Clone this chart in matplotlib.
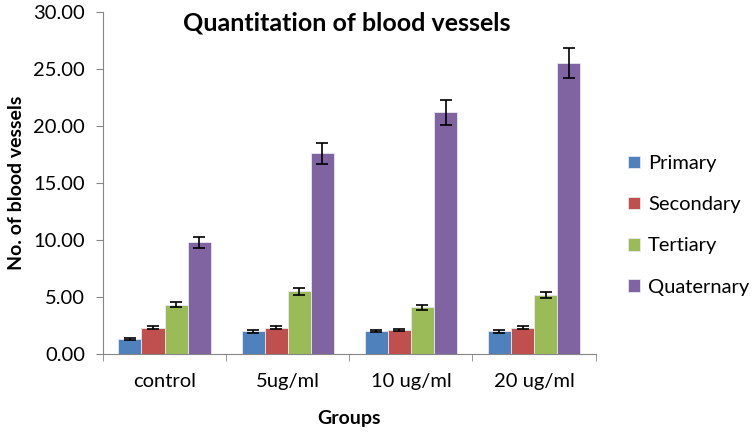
import matplotlib.pyplot as plt
import numpy as np

groups = ["control", "5ug/ml", "10 ug/ml", "20 ug/ml"]
series = ["Primary", "Secondary", "Tertiary", "Quaternary"]
primary = [1.3, 2.0, 2.0, 2.0]
secondary = [2.3, 2.3, 2.1, 2.3]
tertiary = [4.3, 5.5, 4.1, 5.2]
quaternary = [9.8, 17.6, 21.2, 25.5]
primary_err = [0.1, 0.12, 0.1, 0.12]
secondary_err = [0.12, 0.12, 0.12, 0.12]
tertiary_err = [0.22, 0.3, 0.22, 0.28]
quaternary_err = [0.5, 0.95, 1.1, 1.3]
colors = ["#4F81BD", "#C0504D", "#9BBB59", "#8064A2"]

values = [primary, secondary, tertiary, quaternary]
errors = [primary_err, secondary_err, tertiary_err, quaternary_err]

plt.rcParams['font.family'] = ['Lato', 'DejaVu Sans']

fig = plt.figure(figsize=(7.54, 4.32), dpi=100)
ax = fig.add_axes([0.1366, 0.1806, 0.6534, 0.7917])

x = np.arange(len(groups))
width = 0.1875
for i, (name, vals, errs) in enumerate(zip(series, values, errors)):
    pos = x + (i - 1.5) * width
    ax.bar(pos, vals, width, color=colors[i], edgecolor="#e8e8f0",
           linewidth=0.6, label=name, zorder=2)
    ax.errorbar(pos, vals, yerr=errs, fmt="none", ecolor="black",
                elinewidth=1.2, capsize=4, capthick=1.2, zorder=3)

ax.set_xlim(-0.5, len(groups) - 0.5)
ax.set_ylim(0, 30)
ax.set_yticks(np.arange(0, 30.1, 5))
ax.set_yticklabels(["%.2f" % v for v in np.arange(0, 30.1, 5)], fontsize=14.5)
ax.set_xticks(x)
ax.set_xticklabels(groups, fontsize=14.5)
ax.set_xticks(np.arange(-0.5, len(groups)), minor=True)
ax.tick_params(axis="x", which="major", length=0, pad=14)
ax.tick_params(axis="x", which="minor", length=5, color="#868686")
ax.tick_params(axis="y", length=5, color="#868686", pad=8)

for side in ["top", "right"]:
    ax.spines[side].set_visible(False)
for side in ["left", "bottom"]:
    ax.spines[side].set_color("#868686")

fig.text(0.46, 1 - 23 / 432, "Quantitation of blood vessels", fontsize=18,
         fontweight="bold", ha="center", va="center")
ax.set_ylabel("No. of blood vessels", fontsize=14, fontweight="bold", labelpad=6)
ax.set_xlabel("Groups", fontsize=14, fontweight="bold", labelpad=14)

fig.legend(loc="upper left", bbox_to_anchor=(628 / 754, 1 - 155 / 432),
           frameon=False, fontsize=14.5, handlelength=0.6, handleheight=0.6,
           labelspacing=1.2, handletextpad=0.4, borderaxespad=0, borderpad=0)

fig.savefig("out.png", dpi=100)
